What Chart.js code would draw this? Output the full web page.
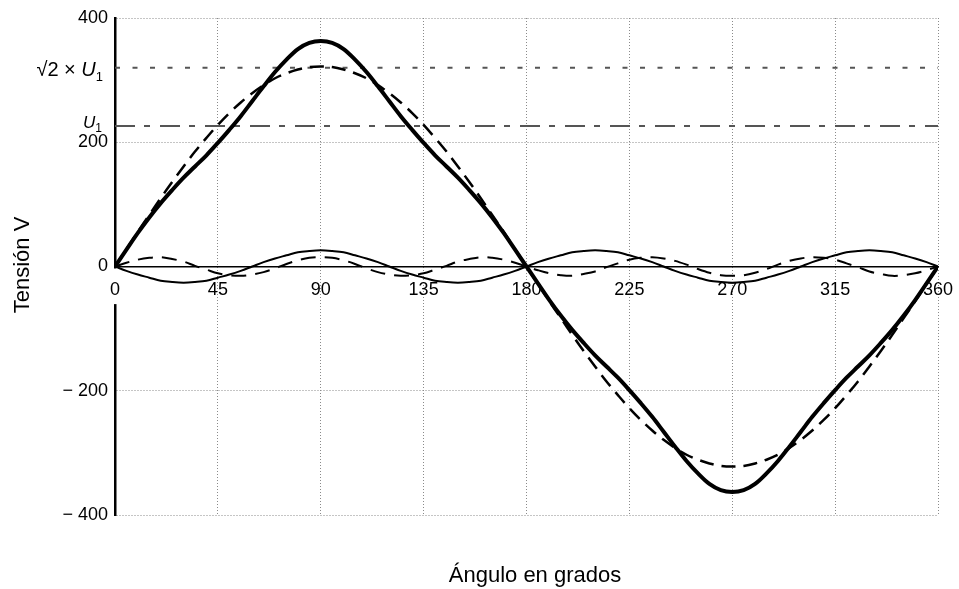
<!DOCTYPE html>
<html>
<head>
<meta charset="utf-8">
<script src="https://cdn.jsdelivr.net/npm/chart.js@4.4.0/dist/chart.umd.min.js"></script>
<style>
html,body{margin:0;padding:0;background:#fff;}
</style>
</head>
<body>
<canvas id="c" width="959" height="589"></canvas>
<script>
// ---- data ----
const angles = [0,5,10,15,20,25,30,35,40,45,50,55,60,65,70,75,80,85,90,
  95,100,105,110,115,120,125,130,135,140,145,150,155,160,165,170,175,180,
  185,190,195,200,205,210,215,220,225,230,235,240,245,250,255,260,265,270,
  275,280,285,290,295,300,305,310,315,320,325,330,335,340,345,350,355,360];

// thick solid: total voltage
const totalVoltage = [0,27,54,79,102,123,143,161,179,199,220,242,266,290,313,333,350,360,363,
  360,350,333,313,290,266,242,220,199,179,161,143,123,102,79,54,27,0,
  -27,-54,-79,-102,-123,-143,-161,-179,-199,-220,-242,-266,-290,-313,-333,-350,-360,-363,
  -360,-350,-333,-313,-290,-266,-242,-220,-199,-179,-161,-143,-123,-102,-79,-54,-27,0];

// long dashed: fundamental
const fundamental = [0,28,56,83,110,136,161,185,207,228,247,264,279,292,303,311,317,321,322,
  321,317,311,303,292,279,264,247,228,207,185,161,136,110,83,56,28,0,
  -28,-56,-83,-110,-136,-161,-185,-207,-228,-247,-264,-279,-292,-303,-311,-317,-321,-322,
  -321,-317,-311,-303,-292,-279,-264,-247,-228,-207,-185,-161,-136,-110,-83,-56,-28,0];

// thin solid: third harmonic
const thirdHarmonic = [0,-7,-13,-18,-23,-25,-26,-25,-23,-18,-13,-7,0,7,13,18,23,25,26,
  25,23,18,13,7,0,-7,-13,-18,-23,-25,-26,-25,-23,-18,-13,-7,0,
  7,13,18,23,25,26,25,23,18,13,7,0,-7,-13,-18,-23,-25,-26,
  -25,-23,-18,-13,-7,0,7,13,18,23,25,26,25,23,18,13,7,0];

// small dashed: fifth harmonic
const fifthHarmonic = [0,6,11,14,15,12,8,1,-5,-11,-14,-15,-13,-9,-3,4,10,14,15,
  14,10,4,-3,-9,-13,-15,-14,-11,-5,1,8,12,15,14,11,6,0,
  -6,-11,-14,-15,-12,-8,-1,5,11,14,15,13,9,3,-4,-10,-14,-15,
  -14,-10,-4,3,9,13,15,14,11,5,-1,-8,-12,-15,-14,-11,-6,0];

const refU1 = 226;        // U1 line
const refPeak = 320;      // sqrt(2) x U1 line
const refRange = [0, 360];

const xTicks = [0,45,90,135,180,225,270,315,360];
const yTicks = [-400,-200,0,200,400];
const xTitle = 'Ángulo en grados';
const yTitle = 'Tensión V';

// ---- chart ----
const FAM = '"Liberation Sans", Arial, Helvetica, sans-serif';
Chart.defaults.font.family = FAM;
Chart.defaults.color = '#000';

const toXY = arr => arr.map((v, i) => ({x: angles[i], y: v}));
const refXY = v => refRange.map(a => ({x: a, y: v}));

const textPlugin = {
  id: 'extraText',
  afterDraw(chart) {
    const ctx = chart.ctx;
    const ys = chart.scales.y;
    ctx.save();
    ctx.fillStyle = '#000';
    // y title
    ctx.save();
    ctx.font = '22px ' + FAM;
    ctx.textAlign = 'center';
    ctx.textBaseline = 'alphabetic';
    ctx.translate(29, 265);
    ctx.rotate(-Math.PI / 2);
    ctx.fillText(yTitle, 0, 0);
    ctx.restore();
    // x title
    ctx.font = '22px ' + FAM;
    ctx.textAlign = 'center';
    ctx.textBaseline = 'alphabetic';
    ctx.fillText(xTitle, 535, 582);

    function uLabel(prefix, value, rightX, mainSize, subSize, baseOff, subOff) {
      const yPix = ys.getPixelForValue(value);
      const fMain = mainSize + 'px ' + FAM;
      const fIt = 'italic ' + mainSize + 'px ' + FAM;
      const fSub = subSize + 'px ' + FAM;
      ctx.font = fMain; const wPre = prefix ? ctx.measureText(prefix).width : 0;
      ctx.font = fIt; const wU = ctx.measureText('U').width;
      ctx.font = fSub; const wS = ctx.measureText('1').width;
      let x = rightX - wS - wU - wPre;
      ctx.textAlign = 'left';
      ctx.textBaseline = 'alphabetic';
      if (prefix) { ctx.font = fMain; ctx.fillText(prefix, x, yPix + baseOff); }
      x += wPre;
      ctx.font = fIt; ctx.fillText('U', x, yPix + baseOff);
      x += wU;
      ctx.font = fSub; ctx.fillText('1', x, yPix + subOff);
    }
    uLabel('\u221A2 \u00D7 ', refPeak, 103, 20, 13, 8.5, 13);
    uLabel('', refU1, 102, 17, 12, 2, 6);
    ctx.restore();
  }
};

new Chart(document.getElementById('c'), {
  type: 'line',
  data: {
    datasets: [
      {data: toXY(totalVoltage), borderColor: '#000', borderWidth: 4, pointRadius: 0, tension: 0.35, fill: false, order: 0},
      {data: toXY(fundamental), borderColor: '#000', borderWidth: 2.5, borderDash: [14, 8], pointRadius: 0, tension: 0.35, fill: false, order: 1},
      {data: toXY(thirdHarmonic), borderColor: '#000', borderWidth: 2, pointRadius: 0, tension: 0.35, fill: false, order: 2},
      {data: toXY(fifthHarmonic), borderColor: '#000', borderWidth: 2, borderDash: [15, 9], pointRadius: 0, tension: 0.35, fill: false, order: 3},
      {data: refXY(refPeak), borderColor: '#555', borderWidth: 2, borderDash: [5, 12.5], pointRadius: 0, tension: 0, fill: false, order: 4},
      {data: refXY(refU1), borderColor: '#555', borderWidth: 2, borderDash: [20, 9, 6, 10], pointRadius: 0, tension: 0, fill: false, order: 5}
    ]
  },
  options: {
    responsive: false,
    devicePixelRatio: 1,
    animation: false,
    events: [],
    layout: {padding: {left: 35, right: 21, top: 18, bottom: 74}},
    plugins: {legend: {display: false}, title: {display: false}, tooltip: {enabled: false}},
    scales: {
      x: {
        type: 'linear',
        min: 0, max: 360,
        position: {y: 0},
        afterBuildTicks: s => { s.ticks = xTicks.map(v => ({value: v})); },
        afterFit: s => { s.paddingLeft = 0; s.paddingRight = 0; },
        ticks: {
          autoSkip: false, maxRotation: 0, padding: 13, color: '#000',
          font: {size: 18, family: FAM},
          showLabelBackdrop: c => c.index === 0,
          backdropColor: '#fff',
          backdropPadding: {top: 11, bottom: 3, left: 3, right: 3}
        },
        grid: {color: '#8a8a8a', lineWidth: 1, drawTicks: false},
        border: {display: true, color: '#000', width: 1.5, dash: [1, 2]}
      },
      y: {
        type: 'linear',
        min: -400, max: 400,
        afterBuildTicks: s => { s.ticks = yTicks.map(v => ({value: v})); },
        afterFit: s => { s.width = 80; },
        ticks: {
          padding: 7, color: '#000', font: {size: 18, family: FAM},
          callback: v => v < 0 ? '\u2212 ' + Math.abs(v) : String(v)
        },
        grid: {
          color: c => (c.tick && c.tick.value === 0) ? 'rgba(0,0,0,0)' : '#8a8a8a',
          lineWidth: 1, drawTicks: false
        },
        border: {display: true, color: '#000', width: 2.5, dash: [1, 2], z: -1}
      }
    }
  },
  plugins: [textPlugin]
});
</script>
</body>
</html>
